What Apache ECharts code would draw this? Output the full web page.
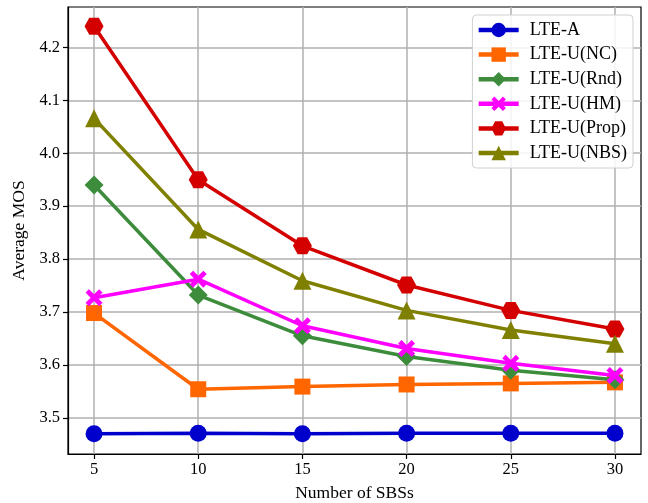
<!DOCTYPE html>
<html>
<head>
<meta charset="utf-8">
<script src="https://cdn.jsdelivr.net/npm/echarts@6/dist/echarts.min.js"></script>
<style>
  html, body { margin: 0; padding: 0; background: #fff; }
  #chart { width: 648px; height: 503px; }
</style>
</head>
<body>
<div id="chart"></div>
<script>
// Number of small base stations
const sbsCounts = [5, 10, 15, 20, 25, 30];
const xTicks = [5, 10, 15, 20, 25, 30];
const yTicks = [3.5, 3.6, 3.7, 3.8, 3.9, 4.0, 4.1, 4.2];

// Average MOS per scheme
const lteA    = [3.470, 3.471, 3.470, 3.471, 3.471, 3.471];
const lteUNC  = [3.698, 3.554, 3.559, 3.563, 3.565, 3.567];
const lteURnd = [3.940, 3.732, 3.655, 3.616, 3.590, 3.572];
const lteUHM  = [3.727, 3.762, 3.674, 3.631, 3.603, 3.580];
const lteUProp = [4.240, 3.950, 3.825, 3.751, 3.703, 3.668];
const lteUNBS = [4.066, 3.856, 3.759, 3.703, 3.666, 3.640];

const seriesNames = ['LTE-A', 'LTE-U(NC)', 'LTE-U(Rnd)', 'LTE-U(HM)', 'LTE-U(Prop)', 'LTE-U(NBS)'];
const seriesValues = [lteA, lteUNC, lteURnd, lteUHM, lteUProp, lteUNBS];
const seriesColors = ['#0000cc', '#ff6600', '#3c8c3c', '#ff00ff', '#d40000', '#808000'];

const xShape = 'path://M-1,-0.6 L-0.6,-1 L0,-0.4 L0.6,-1 L1,-0.6 L0.4,0 L1,0.6 L0.6,1 L0,0.4 L-0.6,1 L-1,0.6 L-0.4,0 Z';
const hexShape = 'path://M-1,0 L-0.5,-0.866 L0.5,-0.866 L1,0 L0.5,0.866 L-0.5,0.866 Z';
const seriesSymbols = ['circle', 'rect', 'diamond', xShape, hexShape, 'triangle'];
const seriesSymbolSizes = [17, 16, 19, 17, [19, 17], 18];

const font = 'Liberation Serif, Times New Roman, serif';

const chart = echarts.init(document.getElementById('chart'), null, { renderer: 'canvas' });

chart.setOption({
  animation: false,
  backgroundColor: '#fff',
  textStyle: { fontFamily: font },
  grid: {
    left: 68, right: 7, top: 7, bottom: 49,
    outerBoundsMode: 'none',
    containLabel: false,
    show: true, borderColor: '#000', borderWidth: 1.2
  },
  legend: {
    right: 15, top: 15,
    orient: 'vertical',
    itemWidth: 40, itemHeight: 18, itemGap: 6.6,
    padding: [6, 6, 6, 4],
    backgroundColor: 'rgba(255,255,255,0.85)',
    borderColor: '#d0d0d0', borderWidth: 1, borderRadius: 4,
    lineStyle: { width: 4.5 },
    textStyle: { fontFamily: font, fontSize: 18, color: '#000', padding: [0, 0, 0, 6] },
    data: seriesNames
  },
  xAxis: {
    type: 'value',
    min: 3.75, max: 31.25,
    name: 'Number of SBSs',
    nameLocation: 'middle', nameGap: 30,
    nameTextStyle: { fontFamily: font, fontSize: 17.5, color: '#000' },
    axisLine: { show: true, onZero: false, lineStyle: { color: '#000', width: 1.2 } },
    axisTick: { show: true, length: 5, customValues: xTicks, lineStyle: { color: '#000', width: 1.2 } },
    axisLabel: { customValues: xTicks, fontFamily: font, fontSize: 16.5, color: '#000', margin: 7 },
    splitLine: { show: true, lineStyle: { color: '#b0b0b0', width: 1.5 } }
  },
  yAxis: {
    type: 'value',
    min: 3.4316, max: 4.2764,
    name: 'Average MOS',
    nameLocation: 'middle', nameGap: 34,
    nameTextStyle: { fontFamily: font, fontSize: 17.5, color: '#000' },
    axisLine: { show: true, onZero: false, lineStyle: { color: '#000', width: 1.2 } },
    axisTick: { show: true, length: 5, customValues: yTicks, lineStyle: { color: '#000', width: 1.2 } },
    axisLabel: {
      customValues: yTicks, fontFamily: font, fontSize: 16.5, color: '#000', margin: 8,
      formatter: v => v.toFixed(1)
    },
    splitLine: { show: true, lineStyle: { color: '#b0b0b0', width: 1.5 } }
  },
  series: seriesNames.map((name, i) => ({
    name: name,
    type: 'line',
    data: sbsCounts.map((x, j) => [x, seriesValues[i][j]]),
    symbol: seriesSymbols[i],
    symbolSize: seriesSymbolSizes[i],
    showAllSymbol: true,
    clip: false,
    color: seriesColors[i],
    lineStyle: { color: seriesColors[i], width: 3.5 },
    itemStyle: { color: seriesColors[i], borderWidth: 0 },
    emphasis: { disabled: true },
    z: 2 + i
  }))
});
</script>
</body>
</html>
